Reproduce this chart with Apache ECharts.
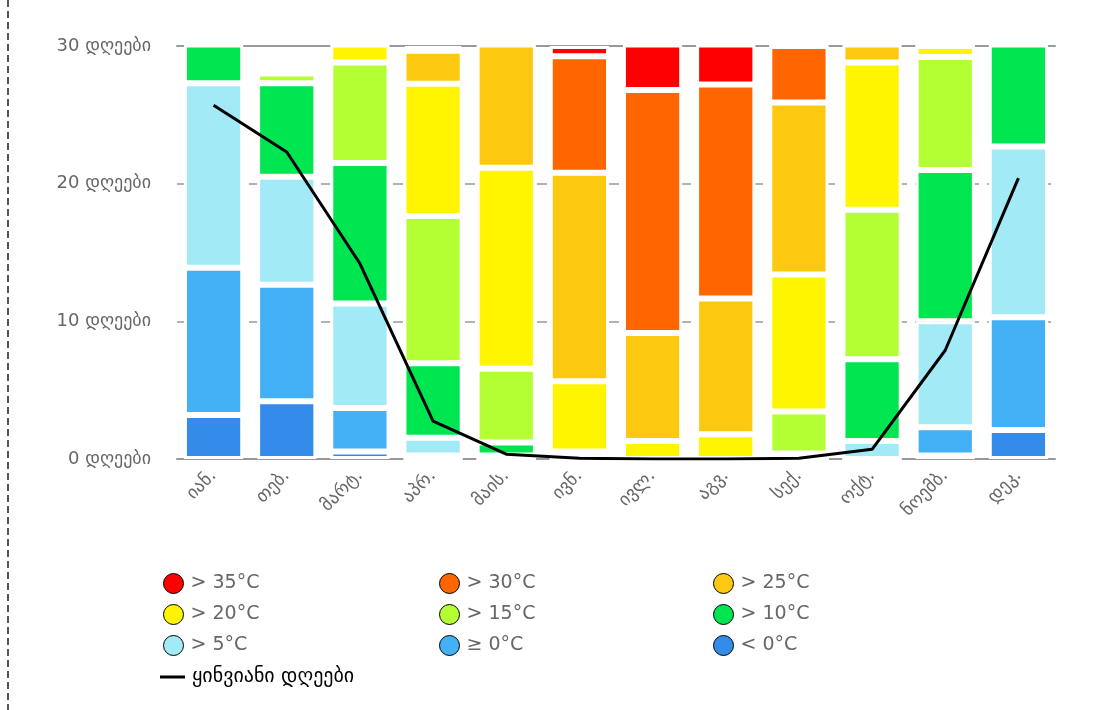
<!DOCTYPE html>
<html>
<head>
<meta charset="utf-8">
<script src="https://cdn.jsdelivr.net/npm/echarts@6/dist/echarts.min.js"></script>
<style>
html,body{margin:0;padding:0;background:#fff;}
#chart{width:1112px;height:710px;}
</style>
</head>
<body>
<div id="chart"></div>
<script>
const months = ['იან.','თებ.','მარტ.','აპრ.','მაის.','ივნ.','ივლ.','აგვ.','სექ.','ოქტ.','ნოემბ.','დეკ.'];
const yTicks = [0, 10, 20, 30];
const unitLabel = 'დღეები';

const below0  = [3.2, 4.2, 0.55, 0, 0, 0, 0, 0, 0, 0, 0.25, 2.1];
const above0  = [10.7, 8.45, 3.15, 0.25, 0, 0, 0, 0, 0, 0, 2.05, 8.2];
const above5  = [13.4, 7.85, 7.6, 1.3, 0.25, 0, 0, 0, 0, 1.3, 7.7, 12.4];
const above10 = [3.7, 6.8, 10.2, 5.4, 0.95, 0.1, 0, 0, 0.4, 5.95, 11.0, 8.3];
const above15 = [0, 0.7, 7.3, 10.7, 5.35, 0.45, 0, 0, 3.05, 10.85, 8.2, 0];
const above20 = [0, 0, 2.2, 9.6, 14.6, 5.1, 1.3, 1.8, 9.95, 10.7, 0.8, 0];
const above25 = [0, 0, 0, 2.4, 9.85, 15.15, 7.85, 9.85, 12.5, 2.2, 0, 0];
const above30 = [0, 0, 0, 0.15, 0, 8.45, 17.65, 15.55, 4.1, 0, 0, 0];
const above35 = [0, 0, 0, 0.2, 0, 0.75, 4.2, 3.8, 0, 0, 0, 0];
const frostDays = [25.7, 22.3, 14.2, 2.75, 0.35, 0.05, 0, 0, 0.05, 0.7, 7.9, 20.4];

const bands = [
  {name: '< 0°C',  data: below0,  color: '#358be9'},
  {name: '≥ 0°C',  data: above0,  color: '#44b0f6'},
  {name: '> 5°C',  data: above5,  color: '#a2eaf6'},
  {name: '> 10°C', data: above10, color: '#00e650'},
  {name: '> 15°C', data: above15, color: '#b4ff33'},
  {name: '> 20°C', data: above20, color: '#fff500'},
  {name: '> 25°C', data: above25, color: '#fdc910'},
  {name: '> 30°C', data: above30, color: '#ff6600'},
  {name: '> 35°C', data: above35, color: '#ff0000'}
];
const frostName = 'ყინვიანი დღეები';

const FONT = "'DejaVu Sans', sans-serif";
const chart = echarts.init(document.getElementById('chart'), null, {renderer: 'canvas'});

const series = bands.map(b => ({
  name: b.name, type: 'bar', stack: 'days', data: b.data, barWidth: '81%', clip: true,
  itemStyle: {color: b.color, borderColor: '#fff', borderWidth: 3},
  emphasis: {disabled: true}
}));
series.push({
  name: frostName, type: 'line', data: frostDays, showSymbol: false, symbol: 'none',
  lineStyle: {color: '#000', width: 3}, itemStyle: {color: '#000'}, z: 10
});

function circleLegend(names, left) {
  return {
    orient: 'vertical', left: left, top: 568, data: names, icon: 'circle',
    itemWidth: 20, itemHeight: 20, itemGap: 10,
    itemStyle: {borderColor: '#000', borderWidth: 1},
    textStyle: {fontFamily: FONT, fontSize: 19, color: '#666', padding: [0, 0, 0, 2]},
    selectedMode: false
  };
}

chart.setOption({
  animation: false,
  backgroundColor: '#fff',
  grid: {left: 177, right: 57, top: 46, bottom: 251},
  xAxis: [{
    type: 'category', data: months,
    axisLine: {lineStyle: {color: '#999', width: 2}},
    axisTick: {show: false},
    axisLabel: {rotate: 45, fontFamily: FONT, fontSize: 18, color: '#666', margin: 14}
  }, {
    type: 'category', data: months, position: 'top',
    axisLine: {lineStyle: {color: '#999', width: 2}},
    axisTick: {show: false}, axisLabel: {show: false}
  }],
  yAxis: {
    type: 'value', min: yTicks[0], max: yTicks[yTicks.length - 1], interval: 10,
    axisLine: {show: false}, axisTick: {show: false},
    axisLabel: {formatter: v => v + ' ' + unitLabel, fontFamily: FONT, fontSize: 18, color: '#666', margin: 26},
    splitLine: {lineStyle: {color: '#999', type: [10, 8], width: 1.5}}
  },
  legend: [
    circleLegend(['> 35°C', '> 20°C', '> 5°C'], 158),
    circleLegend(['> 30°C', '> 15°C', '≥ 0°C'], 434),
    circleLegend(['> 25°C', '> 10°C', '< 0°C'], 708),
    {
      left: 155, top: 662, data: [frostName], icon: 'rect',
      itemWidth: 25, itemHeight: 3,
      textStyle: {fontFamily: FONT, fontSize: 20, color: '#000', padding: [0, 0, 0, 2]},
      selectedMode: false
    }
  ],
  graphic: [{
    type: 'line', shape: {x1: 8, y1: 0, x2: 8, y2: 710},
    style: {stroke: '#555', lineWidth: 2, lineDash: [7, 4]}, silent: true
  }],
  series: series
});
</script>
</body>
</html>
